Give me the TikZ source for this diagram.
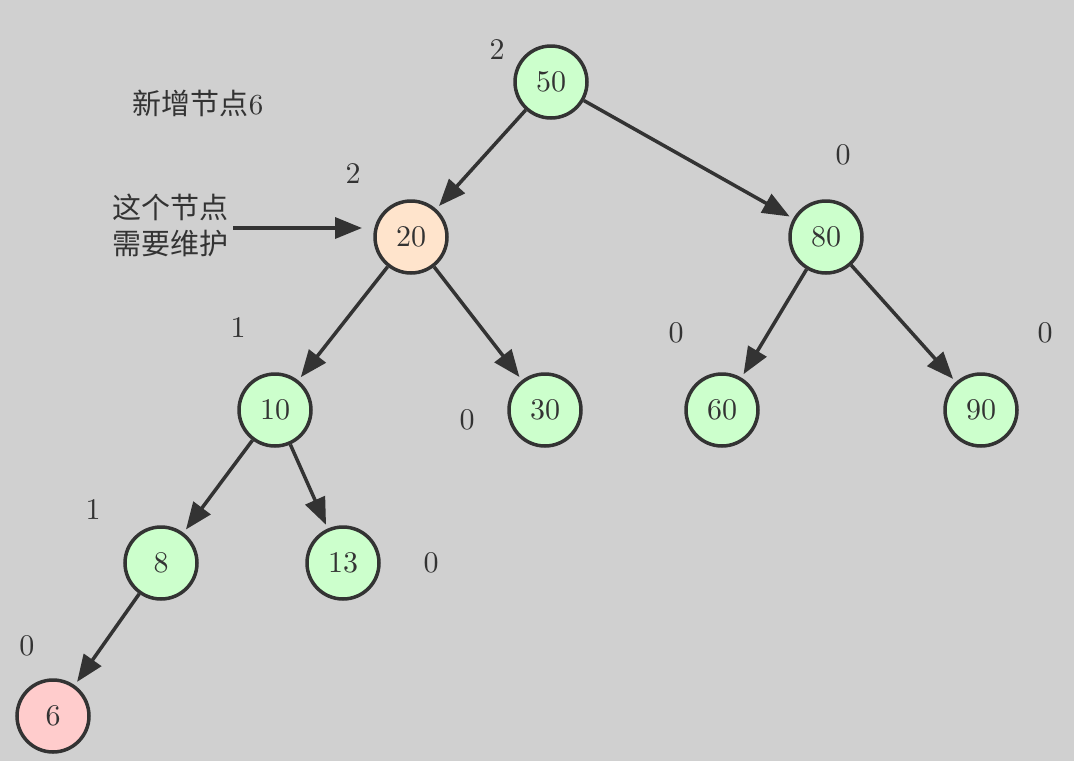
\documentclass[tikz,border=0pt]{standalone}
\usepackage{fontspec}
\setmainfont{lmroman10-regular.otf}
\newfontfamily\cjk{Noto Sans CJK SC}
\usetikzlibrary{arrows.meta}
\definecolor{cbg}{HTML}{D0D0D0}
\definecolor{cline}{HTML}{333333}
\definecolor{cgreen}{HTML}{CCFFCC}
\definecolor{cpeach}{HTML}{FFE4CC}
\definecolor{cpink}{HTML}{FFCCCC}
\tikzset{
  every picture/.style={line width=3.5pt},
  tnode/.style={circle, draw=cline, fill=#1, minimum size=72pt, inner sep=0pt,
    font=\fontsize{30}{34}\selectfont, text=cline},
  tnode/.default=cgreen,
  edge/.style={-{Triangle[length=27pt, width=21pt]}, draw=cline, shorten >=4pt},
  bf/.style={font=\fontsize{30}{34}\selectfont, text=cline},
  note/.style={font=\cjk\fontsize{29}{36}\selectfont, text=cline, align=center},
}

\begin{document}
\begin{tikzpicture}[x=1pt, y=-1pt]
  \fill[cbg] (0,0) rectangle (1074,761);
  \useasboundingbox (0,0) rectangle (1074,761);
  % tree nodes
  \node[tnode] (n50) at (551,82) {50};
  \node[tnode=cpeach] (n20) at (411,237) {20};
  \node[tnode] (n80) at (826,237) {80};
  \node[tnode] (n10) at (275,410) {10};
  \node[tnode] (n30) at (545,410) {30};
  \node[tnode] (n60) at (722,410) {60};
  \node[tnode] (n90) at (981,410) {90};
  \node[tnode] (n8) at (161,563) {8};
  \node[tnode] (n13) at (343,563) {13};
  \node[tnode=cpink] (n6) at (53,716) {6};
  \foreach \a/\b in {50/20, 50/80, 20/10, 20/30, 80/60, 80/90, 10/8, 10/13, 8/6}
    \draw[edge] (n\a) -- (n\b);
  % balance factors
  \node[bf] (b50) at (497,50) {2};
  \node[bf] (b20) at (353,174) {2};
  \node[bf] (b80) at (843,155) {0};
  \node[bf] (b10) at (238,328) {1};
  \node[bf] (b30) at (467,420) {0};
  \node[bf] (b60) at (676,333) {0};
  \node[bf] (b90) at (1045,333) {0};
  \node[bf] (b8) at (93,510) {1};
  \node[bf] (b13) at (431,563) {0};
  \node[bf] (b6) at (27,646) {0};
  % notes
  \node[note] (title) at (198,103) {新增节点{\rmfamily 6}};
  \node[note] (fix) at (170,225) {这个节点\\需要维护};
  \coordinate (tip) at (362,228);
  \draw[edge, shorten >=0pt] (fix.east |- tip) -- (tip);
\end{tikzpicture}
\end{document}
